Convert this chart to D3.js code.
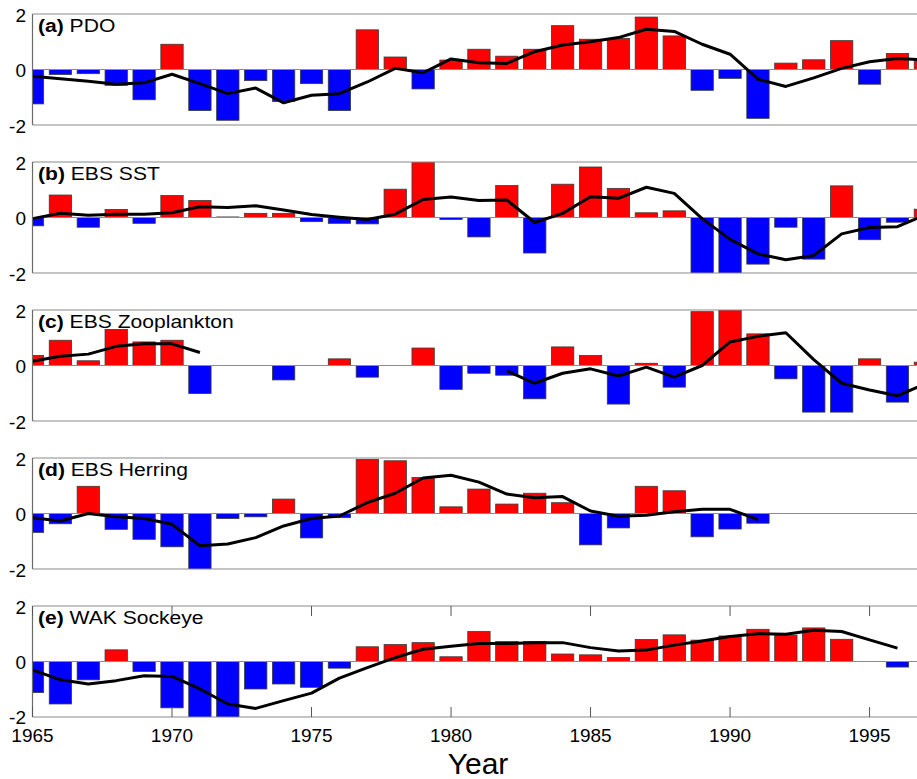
<!DOCTYPE html>
<html>
<head>
<meta charset="utf-8">
<script src="https://cdn.jsdelivr.net/npm/d3@7"></script>
<style>
  html, body { margin: 0; padding: 0; background: #fff; }
  svg { display: block; font-family: Arial, "Liberation Sans", sans-serif; }
</style>
</head>
<body>
<svg id="chart" width="917" height="779"></svg>
<script>
// ---------------- data ----------------
const years = d3.range(1965, 1998); // 1965..1997

const panelLabels = ["(a)", "(b)", "(c)", "(d)", "(e)"];
const panelNames = ["PDO", "EBS SST", "EBS Zooplankton", "EBS Herring", "WAK Sockeye"];

const pdoBars = [-1.24,-0.18,-0.15,-0.57,-1.09,0.91,-1.48,-1.83,-0.40,-1.15,-0.51,-1.48,1.43,0.45,-0.70,0.34,0.73,0.48,0.73,1.58,1.09,1.12,1.89,1.21,-0.75,-0.32,-1.76,0.23,0.35,1.04,-0.53,0.58,0.35];
const pdoLine = [-0.24,-0.33,-0.42,-0.53,-0.48,-0.17,-0.51,-0.87,-0.67,-1.20,-0.93,-0.87,-0.45,0.04,-0.12,0.38,0.24,0.22,0.64,0.88,1.00,1.15,1.45,1.37,0.91,0.55,-0.35,-0.61,-0.30,0.04,0.28,0.40,0.34];

const sstBars = [-0.30,0.81,-0.35,0.29,-0.21,0.79,0.61,0.02,0.15,0.15,-0.15,-0.21,-0.23,1.02,2.10,-0.07,-0.70,1.15,-1.28,1.20,1.82,1.05,0.17,0.24,-2.10,-2.10,-1.68,-0.35,-1.50,1.14,-0.80,-0.17,0.30];
const sstLine = [-0.04,0.15,0.08,0.12,0.12,0.17,0.39,0.36,0.42,0.27,0.11,0.01,-0.07,0.12,0.65,0.74,0.61,0.63,-0.18,0.15,0.75,0.69,1.09,0.87,-0.04,-0.79,-1.31,-1.52,-1.37,-0.59,-0.36,-0.33,0.10];

const zooBars = [0.36,0.91,0.17,1.30,0.85,0.91,-1.01,null,null,-0.52,null,0.24,-0.42,null,0.63,-0.86,-0.28,-0.35,-1.20,0.67,0.36,-1.39,0.08,-0.78,1.94,2.10,1.14,-0.48,-1.68,-1.68,0.24,-1.32,0.12];
const zooLine = [0.15,0.33,0.41,0.69,0.78,0.78,0.47,null,null,null,null,null,null,null,null,null,null,-0.19,-0.64,-0.28,-0.12,-0.38,-0.06,-0.42,0.00,0.85,1.05,1.18,0.21,-0.64,-0.88,-1.09,-0.66];

const herringBars = [-0.68,-0.37,0.98,-0.57,-0.93,-1.20,-2.10,-0.18,-0.12,0.52,-0.88,-0.15,1.95,1.90,1.30,0.24,0.88,0.34,0.73,0.39,-1.13,-0.52,0.98,0.82,-0.84,-0.56,-0.35,null,null,null,null,null,null];
const herringLine = [-0.15,-0.27,0.00,-0.12,-0.18,-0.39,-1.16,-1.10,-0.87,-0.45,-0.18,-0.09,0.39,0.73,1.28,1.38,1.13,0.70,0.57,0.61,0.09,-0.10,-0.06,0.06,0.15,0.15,-0.22,null,null,null,null,null,null];

const sockeyeBars = [-1.12,-1.53,-0.66,0.42,-0.36,-1.67,-2.10,-2.10,-0.99,-0.81,-0.93,-0.24,0.53,0.61,0.68,0.17,1.08,0.72,0.72,0.27,0.24,0.14,0.79,0.96,0.77,0.92,1.16,0.95,1.21,0.80,null,-0.20,null];
const sockeyeLine = [-0.30,-0.66,-0.81,-0.69,-0.51,-0.54,-0.99,-1.53,-1.69,-1.41,-1.14,-0.60,-0.22,0.14,0.44,0.55,0.65,0.65,0.68,0.68,0.50,0.38,0.41,0.59,0.74,0.90,1.00,0.98,1.13,1.08,0.78,0.48,null];

const barSeries = [pdoBars, sstBars, zooBars, herringBars, sockeyeBars];
const lineSeries = [pdoLine, sstLine, zooLine, herringLine, sockeyeLine];

const yTicks = [2, 0, -2];
const xTicks = [1965, 1970, 1975, 1980, 1985, 1990, 1995];
const xTitle = "Year";

// ---------------- layout ----------------
const W = 917, H = 779;
const left = 32.5, right = 917;
const panelTop0 = 14, panelStep = 148, panelH = 111;

const svg = d3.select("#chart");
const x = d3.scaleLinear().domain([1965, 1996.7]).range([left, right]);
const barW = (x(1966) - x(1965)) * 0.8;

const line = d3.line()
  .defined(d => d.v !== null)
  .x(d => x(d.year))
  .curve(d3.curveLinear);

barSeries.forEach((bars, i) => {
  const top = panelTop0 + i * panelStep;
  const y = d3.scaleLinear().domain([-2, 2]).range([top + panelH, top]);
  const g = svg.append("g");

  const clipId = "clip" + i;
  svg.append("clipPath").attr("id", clipId)
    .append("rect").attr("x", left).attr("y", top).attr("width", right - left).attr("height", panelH);

  const plot = g.append("g").attr("clip-path", `url(#${clipId})`);

  const data = years.map((yr, k) => ({ year: yr, v: bars[k] })).filter(d => d.v !== null);
  plot.selectAll("rect.bar").data(data).join("rect")
    .attr("class", "bar")
    .attr("x", d => x(d.year) - barW / 2)
    .attr("width", barW)
    .attr("y", d => y(Math.max(0, d.v)))
    .attr("height", d => Math.abs(y(d.v) - y(0)))
    .attr("fill", d => d.v >= 0 ? "#ff0000" : "#0000ff")
    .attr("stroke", "#3a3a3a")
    .attr("stroke-width", 0.8);

  // zero line
  plot.append("line")
    .attr("x1", left).attr("x2", right)
    .attr("y1", y(0)).attr("y2", y(0))
    .attr("stroke", "#8c8c8c").attr("stroke-width", 1);

  // smoothed line
  const ld = years.map((yr, k) => ({ year: yr, v: lineSeries[i][k] }));
  plot.append("path")
    .datum(ld)
    .attr("d", line.y(d => y(d.v)))
    .attr("fill", "none")
    .attr("stroke", "#000")
    .attr("stroke-width", 3)
    .attr("stroke-linejoin", "round");

  // frame
  g.append("line").attr("x1", left).attr("x2", right).attr("y1", top).attr("y2", top)
    .attr("stroke", "#8a8a8a").attr("stroke-width", 1.2);
  g.append("line").attr("x1", left).attr("x2", right).attr("y1", top + panelH).attr("y2", top + panelH)
    .attr("stroke", "#8a8a8a").attr("stroke-width", 1.2);
  g.append("line").attr("x1", left).attr("x2", left).attr("y1", top).attr("y2", top + panelH)
    .attr("stroke", "#6a6a6a").attr("stroke-width", 1.2);

  // y tick labels
  g.selectAll("text.ytick").data(yTicks).join("text")
    .attr("class", "ytick")
    .attr("x", 26)
    .attr("y", d => y(d) + (i === barSeries.length - 1 && d === -2 ? 6.5 : 7.5))
    .attr("text-anchor", "end")
    .attr("font-size", 19)
    .attr("fill", "#000")
    .text(d => d);

  // panel title (slightly wide lettering, as in the original)
  const t = g.append("text")
    .attr("transform", `translate(38,${top + 17.5}) scale(1.14,1)`)
    .attr("font-size", 18.5)
    .attr("fill", "#000");
  t.append("tspan").attr("font-weight", "bold").text(panelLabels[i]);
  t.append("tspan").text(" " + panelNames[i]);

  // bottom panel: x axis ticks
  if (i === barSeries.length - 1) {
    xTicks.forEach(tk => {
      g.append("line").attr("x1", x(tk)).attr("x2", x(tk))
        .attr("y1", top + panelH).attr("y2", top + panelH - 10)
        .attr("stroke", "#555").attr("stroke-width", 1);
      g.append("line").attr("x1", x(tk)).attr("x2", x(tk))
        .attr("y1", top).attr("y2", top + 10)
        .attr("stroke", "#555").attr("stroke-width", 1);
    });
    g.selectAll("text.xtick").data(xTicks).join("text")
      .attr("class", "xtick")
      .attr("x", d => x(d))
      .attr("y", top + panelH + 25)
      .attr("text-anchor", "middle")
      .attr("font-size", 19)
      .attr("fill", "#000")
      .text(d => d);
  }
});

svg.append("text")
  .attr("x", 478)
  .attr("y", 774)
  .attr("text-anchor", "middle")
  .attr("font-size", 30)
  .attr("fill", "#000")
  .text(xTitle);
</script>
</body>
</html>
